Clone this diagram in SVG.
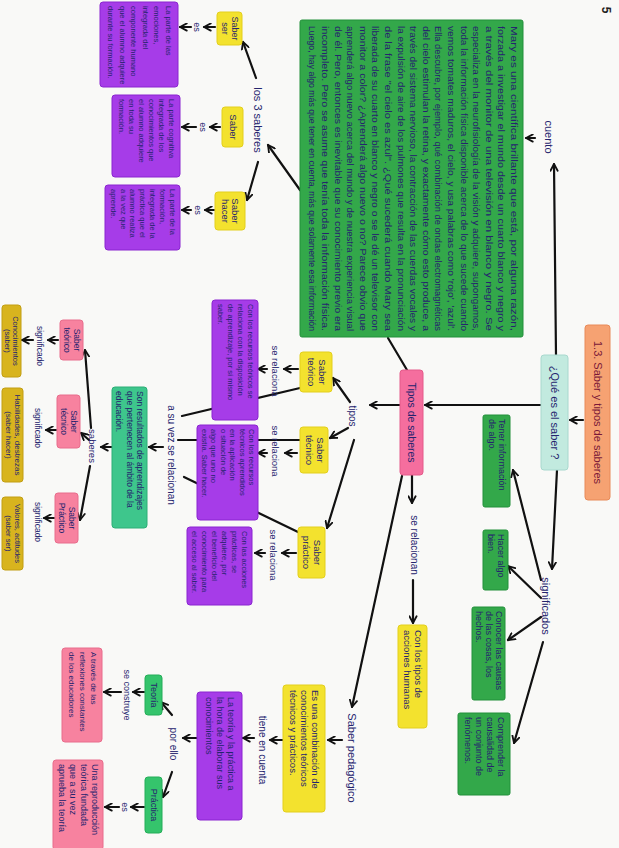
<svg xmlns="http://www.w3.org/2000/svg" width="619" height="848" viewBox="0 0 619 848">
<defs>
<marker id="ah" viewBox="0 0 10 10" refX="8.5" refY="5" markerWidth="9" markerHeight="9" markerUnits="userSpaceOnUse" orient="auto">
<path d="M1,1 L8.5,5 L1,9" fill="none" stroke="#111" stroke-width="2" stroke-linejoin="round" stroke-linecap="round"/>
</marker>
</defs>
<style>
text{font-family:"Liberation Sans",Arial,sans-serif;fill:#25246e}
.a{stroke:#111;stroke-width:2.2;fill:none;marker-end:url(#ah);stroke-linecap:round}
.l{stroke:#111;stroke-width:2.2;fill:none;stroke-linecap:round}
.org{fill:#f6a272;stroke:#e88a58;stroke-width:1}
.cya{fill:#c2eadf;stroke:#a8d8ce;stroke-width:1}
.grn{fill:#33a84a;stroke:#23903a;stroke-width:1}
.pur{fill:#a63ce8;stroke:#8a25d0;stroke-width:1}
.yel{fill:#f3e22e;stroke:#e3cf1c;stroke-width:1}
.pnk{fill:#f56e9e;stroke:#e45a8a;stroke-width:1}
.pk2{fill:#f7829f;stroke:#e86d8c;stroke-width:1}
.mus{fill:#d8b41e;stroke:#c29e12;stroke-width:1}
.mnt{fill:#3ec68c;stroke:#2cae76;stroke-width:1}
.gr2{fill:#35c46c;stroke:#25ad58;stroke-width:1}
.c{text-anchor:middle}
</style>
<rect width="619" height="848" fill="#f9f9f7"/>

<g id="connectors">
<line class="a" x1="583" y1="420" x2="570" y2="420"/>
<line class="a" x1="556" y1="356" x2="554" y2="164"/>
<line class="a" x1="535" y1="138" x2="526" y2="138"/>
<line class="a" x1="557" y1="470" x2="552" y2="569"/>
<line class="a" x1="541" y1="580" x2="513" y2="470"/>
<line class="a" x1="541" y1="598" x2="508" y2="566"/>
<line class="a" x1="541" y1="617" x2="508" y2="640"/>
<line class="a" x1="543" y1="642" x2="514" y2="743"/>
<line class="a" x1="541" y1="405" x2="425" y2="405"/>
<line class="l" x1="388" y1="338" x2="407" y2="370"/>
<line class="a" x1="300" y1="190" x2="268" y2="145"/>
<line class="a" x1="256" y1="78" x2="243" y2="42"/>
<line class="a" x1="258" y1="162" x2="247" y2="200"/>
<line class="a" x1="215" y1="27" x2="204" y2="27"/>
<line class="a" x1="191" y1="27" x2="180" y2="27"/>
<line class="a" x1="220" y1="127" x2="210" y2="127"/>
<line class="a" x1="196" y1="127" x2="182" y2="127"/>
<line class="a" x1="214" y1="210" x2="205" y2="210"/>
<line class="a" x1="191" y1="210" x2="182" y2="210"/>
<line class="a" x1="400" y1="405" x2="370" y2="405"/>
<line class="a" x1="350" y1="402" x2="333" y2="378"/>
<line class="a" x1="348" y1="428" x2="330" y2="438"/>
<line class="a" x1="354" y1="440" x2="327" y2="528"/>
<line class="l" x1="300" y1="388" x2="182" y2="416"/>
<line class="l" x1="300" y1="440" x2="178" y2="440"/>
<line class="l" x1="298" y1="532" x2="184" y2="477"/>
<line class="a" x1="298" y1="369" x2="284" y2="369"/>
<line class="a" x1="267" y1="369" x2="258" y2="369"/>
<line class="a" x1="297" y1="453" x2="285" y2="453"/>
<line class="a" x1="267" y1="453" x2="258" y2="453"/>
<line class="a" x1="296" y1="553" x2="282" y2="553"/>
<line class="a" x1="265" y1="553" x2="255" y2="553"/>
<line class="a" x1="163" y1="447" x2="149" y2="447"/>
<line class="a" x1="112" y1="447" x2="101" y2="447"/>
<line class="a" x1="91" y1="428" x2="85" y2="350"/>
<line class="a" x1="89" y1="440" x2="81" y2="433"/>
<line class="a" x1="90" y1="466" x2="80" y2="520"/>
<line class="a" x1="58" y1="340" x2="48" y2="340"/>
<line class="a" x1="33" y1="340" x2="22" y2="340"/>
<line class="a" x1="56" y1="430" x2="46" y2="430"/>
<line class="a" x1="54" y1="518" x2="44" y2="518"/>
<line class="a" x1="412" y1="475" x2="412" y2="503"/>
<line class="a" x1="413" y1="580" x2="413" y2="623"/>
<line class="a" x1="402" y1="476" x2="352" y2="707"/>
<line class="a" x1="342" y1="740" x2="328" y2="740"/>
<line class="a" x1="283" y1="740" x2="270" y2="740"/>
<line class="a" x1="254" y1="738" x2="243" y2="738"/>
<line class="a" x1="197" y1="738" x2="183" y2="738"/>
<line class="a" x1="172" y1="715" x2="161" y2="702"/>
<line class="a" x1="172" y1="772" x2="163" y2="797"/>
<line class="a" x1="144" y1="692" x2="133" y2="692"/>
<line class="a" x1="121" y1="692" x2="104" y2="692"/>
<line class="a" x1="144" y1="807" x2="131" y2="807"/>
<line class="a" x1="119" y1="807" x2="105" y2="807"/>
</g>

<g id="page-number"><text transform="translate(606,10) rotate(90)" class="c" y="4" font-size="12" font-weight="bold" style="fill:#222">5</text></g>

<g id="n-title"><rect class="org" x="585" y="325" width="25" height="175" rx="3"/>
<text transform="translate(610,325) rotate(90)" class="c" x="87.5" y="15.8" font-size="11" style="fill:#7a1838">1.3. Saber y tipos de saberes</text></g>

<g id="n-que"><rect class="cya" x="541" y="355" width="27" height="115" rx="3"/>
<text transform="translate(568,355) rotate(90)" class="c" x="57.5" y="16.8" font-size="11">¿Qué es el saber ?</text></g>

<g id="n-cuento"><text transform="translate(549,137) rotate(90)" class="c" y="3.8" font-size="11">cuento</text></g>
<g id="n-significados"><text transform="translate(546,606) rotate(90)" class="c" y="3.8" font-size="11">significados</text></g>

<g id="n-def1"><rect class="grn" x="483" y="415" width="27" height="92" rx="2"/>
<text transform="translate(510,415) rotate(90)" font-size="9"><tspan x="4" y="11.2">Tener información</tspan><tspan x="4" y="21.2">de algo.</tspan></text></g>
<g id="n-def2"><rect class="grn" x="483" y="530" width="25" height="60" rx="2"/>
<text transform="translate(508,530) rotate(90)" font-size="9"><tspan x="4" y="10.2">Hacer algo</tspan><tspan x="4" y="20.2">bien.</tspan></text></g>
<g id="n-def3"><rect class="grn" x="472" y="607" width="33" height="93" rx="2"/>
<text transform="translate(505,607) rotate(90)" font-size="9"><tspan x="4" y="9.2">Conocer las causas</tspan><tspan x="4" y="19.2">de las cosas, los</tspan><tspan x="4" y="29.2">hechos.</tspan></text></g>
<g id="n-def4"><rect class="grn" x="458" y="713" width="52" height="82" rx="2"/>
<text transform="translate(510,713) rotate(90)" font-size="9"><tspan x="4" y="12.2">Comprender la</tspan><tspan x="4" y="23.2">causalidad de</tspan><tspan x="4" y="34.2">un conjunto de</tspan><tspan x="4" y="45.2">fenómenos.</tspan></text></g>

<g id="n-cuento-texto"><rect class="grn" x="300" y="20" width="223" height="317" rx="2"/>
<g transform="translate(523,20) rotate(90)" font-size="9">
<text x="6" y="12" textLength="305" lengthAdjust="spacingAndGlyphs">Mary es una científica brillante que está, por alguna razón,</text>
<text x="6" y="24.6" textLength="305" lengthAdjust="spacingAndGlyphs">forzada a investigar el mundo desde un cuarto blanco y negro y</text>
<text x="6" y="37.2" textLength="305" lengthAdjust="spacingAndGlyphs">a través del monitor de una televisión en blanco y negro. Se</text>
<text x="6" y="49.8" textLength="305" lengthAdjust="spacingAndGlyphs">especializa en la neurofisiología de la visión y adquiere, supongamos,</text>
<text x="6" y="62.4" textLength="305" lengthAdjust="spacingAndGlyphs">toda la información física disponible acerca de lo que sucede cuando</text>
<text x="6" y="75" textLength="305" lengthAdjust="spacingAndGlyphs">vemos tomates maduros, el cielo, y usa palabras como 'rojo', 'azul'.</text>
<text x="6" y="87.6" textLength="305" lengthAdjust="spacingAndGlyphs">Ella descubre, por ejemplo, qué combinación de ondas electromagnéticas</text>
<text x="6" y="100.2" textLength="305" lengthAdjust="spacingAndGlyphs">del cielo estimulan la retina, y exactamente cómo esto produce, a</text>
<text x="6" y="112.8" textLength="305" lengthAdjust="spacingAndGlyphs">través del sistema nervioso, la contracción de las cuerdas vocales y</text>
<text x="6" y="125.4" textLength="305" lengthAdjust="spacingAndGlyphs">la expulsión de aire de los pulmones que resulta en la pronunciación</text>
<text x="6" y="138" textLength="305" lengthAdjust="spacingAndGlyphs">de la frase "el cielo es azul". ¿Qué sucederá cuando Mary sea</text>
<text x="6" y="150.6" textLength="305" lengthAdjust="spacingAndGlyphs">liberada de su cuarto en blanco y negro o se le dé un televisor con</text>
<text x="6" y="163.2" textLength="305" lengthAdjust="spacingAndGlyphs">monitor a color? ¿Aprenderá algo nuevo o no? Parece obvio que</text>
<text x="6" y="175.8" textLength="305" lengthAdjust="spacingAndGlyphs">aprenderá algo nuevo acerca del mundo y de nuestra experiencia visual</text>
<text x="6" y="188.4" textLength="305" lengthAdjust="spacingAndGlyphs">de él. Pero, entonces es inevitable que su conocimiento previo era</text>
<text x="6" y="201" textLength="305" lengthAdjust="spacingAndGlyphs">incompleto. Pero se asume que tenía toda la información física.</text>
<text x="6" y="213.6" textLength="305" lengthAdjust="spacingAndGlyphs">Luego, hay algo más que tener en cuenta, más que solamente esa información</text>
</g></g>

<g id="n-3saberes"><text transform="translate(258,120) rotate(90)" class="c" y="3.8" font-size="11">los 3 saberes</text></g>

<g id="n-saber-ser"><rect class="yel" x="217" y="12" width="25" height="33" rx="3"/>
<text transform="translate(242,12) rotate(90)" class="c" font-size="9"><tspan x="16.5" y="10.45">Saber</tspan><tspan x="16.5" y="19.95">ser</tspan></text></g>
<g id="n-saber"><rect class="yel" x="222" y="107" width="21" height="40" rx="3"/>
<text transform="translate(243,107) rotate(90)" class="c" x="20" y="13.35" font-size="9.5">Saber</text></g>
<g id="n-saber-hacer"><rect class="yel" x="215" y="192" width="30" height="38" rx="3"/>
<text transform="translate(245,192) rotate(90)" class="c" font-size="9.5"><tspan x="19" y="12.6">Saber</tspan><tspan x="19" y="23.1">hacer</tspan></text></g>

<g id="lbl-es1"><text transform="translate(197.5,27) rotate(90)" class="c" y="3.2" font-size="9">es</text></g>
<g id="lbl-es2"><text transform="translate(203,127) rotate(90)" class="c" y="3.2" font-size="9">es</text></g>
<g id="lbl-es3"><text transform="translate(198,210) rotate(90)" class="c" y="3.2" font-size="9">es</text></g>

<g id="n-p-ser"><rect class="pur" x="100" y="2" width="78" height="85" rx="3"/>
<text transform="translate(178,2) rotate(90)" font-size="7.5"><tspan x="4" y="12.5">La parte de las</tspan><tspan x="4" y="24">emociones,</tspan><tspan x="4" y="35.5">integrada del</tspan><tspan x="4" y="47">componente humano</tspan><tspan x="4" y="58.5">que el alumno adquiere</tspan><tspan x="4" y="70">durante su formación.</tspan></text></g>
<g id="n-p-saber"><rect class="pur" x="112" y="95" width="68" height="82" rx="3"/>
<text transform="translate(180,95) rotate(90)" font-size="7.5"><tspan x="4" y="11.25">La parte cognitiva</tspan><tspan x="4" y="21.25">integrada de los</tspan><tspan x="4" y="31.25">conocimientos que</tspan><tspan x="4" y="41.25">el alumno adquiere</tspan><tspan x="4" y="51.25">en toda su</tspan><tspan x="4" y="61.25">formación.</tspan></text></g>
<g id="n-p-hacer"><rect class="pur" x="105" y="185" width="75" height="65" rx="3"/>
<text transform="translate(180,185) rotate(90)" font-size="7.5"><tspan x="4" y="10.35">La parte de la</tspan><tspan x="4" y="20.15">formación,</tspan><tspan x="4" y="29.95">integrada de la</tspan><tspan x="4" y="39.75">práctica que el</tspan><tspan x="4" y="49.55">alumno realiza</tspan><tspan x="4" y="59.35">a la vez que</tspan><tspan x="4" y="69.15">aprende.</tspan></text></g>

<g id="n-tipos-saberes"><rect class="pnk" x="400" y="370" width="23" height="105" rx="3"/>
<text transform="translate(423,370) rotate(90)" class="c" x="52.5" y="14.65" font-size="10.5">Tipos de saberes</text></g>
<g id="n-tipos"><text transform="translate(352,416) rotate(90)" class="c" y="3.5" font-size="10">tipos</text></g>

<g id="n-teorico"><rect class="yel" x="300" y="352" width="32" height="40" rx="3"/>
<text transform="translate(332,352) rotate(90)" class="c" font-size="9.5"><tspan x="20" y="13.35">Saber</tspan><tspan x="20" y="24.35">teórico</tspan></text></g>
<g id="n-tecnico"><rect class="yel" x="300" y="427" width="28" height="46" rx="3"/>
<text transform="translate(328,427) rotate(90)" class="c" font-size="9.5"><tspan x="23" y="11.35">Saber</tspan><tspan x="23" y="22.35">técnico</tspan></text></g>
<g id="n-practico"><rect class="yel" x="298" y="527" width="27" height="51" rx="3"/>
<text transform="translate(325,527) rotate(90)" class="c" font-size="9.5"><tspan x="25.5" y="10.85">Saber</tspan><tspan x="25.5" y="21.85">práctico</tspan></text></g>

<g id="lbl-rel1"><text transform="translate(275,371) rotate(90)" class="c" y="3.3" font-size="9.5">se relaciona</text></g>
<g id="lbl-rel2"><text transform="translate(275,451) rotate(90)" class="c" y="3.3" font-size="9.5">se relaciona</text></g>
<g id="lbl-rel3"><text transform="translate(273,555) rotate(90)" class="c" y="3.3" font-size="9.5">se relaciona</text></g>

<g id="n-p-teorico"><rect class="pur" x="212" y="300" width="46" height="120" rx="3"/>
<text transform="translate(258,300) rotate(90)" font-size="7.5"><tspan x="4" y="10.25">Con los recursos teóricos se</tspan><tspan x="4" y="20.25">relaciona con la disposición</tspan><tspan x="4" y="30.25">de aprendizaje, por sí mismo</tspan><tspan x="4" y="40.25">saber.</tspan></text></g>
<g id="n-p-tecnico"><rect class="pur" x="197" y="425" width="61" height="95" rx="3"/>
<text transform="translate(258,425) rotate(90)" font-size="7.5"><tspan x="4" y="9">Con los recursos</tspan><tspan x="4" y="18.5">técnicos aprendidos</tspan><tspan x="4" y="28">en la aplicación</tspan><tspan x="4" y="37.5">o situación de</tspan><tspan x="4" y="47">algo que uno no</tspan><tspan x="4" y="56.5">existía. Saber hacer.</tspan></text></g>
<g id="n-p-practico"><rect class="pur" x="187" y="527" width="65" height="78" rx="3"/>
<text transform="translate(252,527) rotate(90)" font-size="7.5"><tspan x="4" y="9.75">Con las acciones</tspan><tspan x="4" y="19.75">prácticas, se</tspan><tspan x="4" y="29.75">adquiere, por</tspan><tspan x="4" y="39.75">el beneficio del</tspan><tspan x="4" y="49.75">conocimiento para</tspan><tspan x="4" y="59.75">el acceso al saber.</tspan></text></g>

<g id="n-asuvez"><text transform="translate(171,455) rotate(90)" class="c" y="3.5" font-size="10">a su vez se relacionan</text></g>

<g id="n-resultados"><rect class="mnt" x="112" y="387" width="35" height="141" rx="3"/>
<text transform="translate(147,387) rotate(90)" font-size="8.5"><tspan x="4" y="9.55">Son resultados de aprendizajes</tspan><tspan x="4" y="20.05">que pertenecen al ámbito de la</tspan><tspan x="4" y="30.55">educación.</tspan></text></g>

<g id="n-saberes"><text transform="translate(92,446) rotate(90)" class="c" y="3.3" font-size="9.5">saberes</text></g>

<g id="n-pk-teorico"><rect class="pk2" x="60" y="320" width="23" height="40" rx="3"/>
<text transform="translate(83,320) rotate(90)" class="c" font-size="8.5"><tspan x="20" y="9.3">Saber</tspan><tspan x="20" y="18.8">teórico</tspan></text></g>
<g id="n-pk-tecnico"><rect class="pk2" x="57" y="395" width="23" height="53" rx="3"/>
<text transform="translate(80,395) rotate(90)" class="c" font-size="8.5"><tspan x="26.5" y="9.3">Saber</tspan><tspan x="26.5" y="18.8">técnico</tspan></text></g>
<g id="n-pk-practico"><rect class="pk2" x="55" y="493" width="23" height="50" rx="3"/>
<text transform="translate(78,493) rotate(90)" class="c" font-size="8.5"><tspan x="25" y="9.3">Saber</tspan><tspan x="25" y="18.8">Práctico</tspan></text></g>

<g id="lbl-sig1"><text transform="translate(40,346) rotate(90)" class="c" y="3" font-size="8.5">significado</text></g>
<g id="lbl-sig2"><text transform="translate(38,428) rotate(90)" class="c" y="3" font-size="8.5">significado</text></g>
<g id="lbl-sig3"><text transform="translate(38,522) rotate(90)" class="c" y="3" font-size="8.5">significado</text></g>

<g id="n-conocimientos"><rect class="mus" x="2" y="305" width="19" height="72" rx="3"/>
<text transform="translate(21,305) rotate(90)" class="c" font-size="7.5"><tspan x="36" y="7.75">Conocimientos</tspan><tspan x="36" y="15.75">(saber)</tspan></text></g>
<g id="n-habilidades"><rect class="mus" x="2" y="388" width="21" height="94" rx="3"/>
<text transform="translate(23,388) rotate(90)" class="c" font-size="8"><tspan x="47" y="8.4">Habilidades, destrezas</tspan><tspan x="47" y="17.4">(saber hacer)</tspan></text></g>
<g id="n-valores"><rect class="mus" x="2" y="497" width="21" height="73" rx="3"/>
<text transform="translate(23,497) rotate(90)" class="c" font-size="7.5"><tspan x="36.5" y="8.4">Valores, actitudes</tspan><tspan x="36.5" y="17.4">(saber ser)</tspan></text></g>

<g id="lbl-serelacionan"><text transform="translate(414,545) rotate(90)" class="c" y="3.5" font-size="10">se relacionan</text></g>
<g id="n-acciones"><rect class="yel" x="398" y="625" width="29" height="103" rx="3"/>
<text transform="translate(427,625) rotate(90)" font-size="9.5"><tspan x="5" y="11.85">Con los tipos de</tspan><tspan x="5" y="22.85">acciones humanas</tspan></text></g>

<g id="n-pedagogico"><text transform="translate(352,758) rotate(90)" class="c" y="3.8" font-size="11">Saber pedagógico</text></g>
<g id="n-combinacion"><rect class="yel" x="283" y="685" width="42" height="127" rx="3"/>
<text transform="translate(325,685) rotate(90)" font-size="9.5"><tspan x="5" y="12.85">Es una combinación de</tspan><tspan x="5" y="23.85">conocimientos teóricos</tspan><tspan x="5" y="34.85">técnicos y prácticos.</tspan></text></g>
<g id="lbl-tiene"><text transform="translate(262,750) rotate(90)" class="c" y="3.5" font-size="10">tiene en cuenta</text></g>
<g id="n-teoria-practica"><rect class="pur" x="197" y="692" width="45" height="128" rx="3"/>
<text transform="translate(242,692) rotate(90)" font-size="9"><tspan x="5" y="14.2">La teoría y la práctica a</tspan><tspan x="5" y="25.2">la hora de elaborar sus</tspan><tspan x="5" y="36.2">conocimientos</tspan></text></g>
<g id="lbl-porello"><text transform="translate(173,744) rotate(90)" class="c" y="3.5" font-size="10">por ello</text></g>
<g id="n-teoria"><rect class="gr2" x="145" y="675" width="17" height="40" rx="3"/>
<text transform="translate(162,675) rotate(90)" class="c" x="20" y="11.2" font-size="9">Teoría</text></g>
<g id="n-practica"><rect class="gr2" x="145" y="777" width="17" height="56" rx="3"/>
<text transform="translate(162,777) rotate(90)" class="c" x="28" y="11.2" font-size="9">Práctica</text></g>
<g id="lbl-construye"><text transform="translate(127,695) rotate(90)" class="c" y="3.2" font-size="9">se construye</text></g>
<g id="lbl-es4"><text transform="translate(125,807) rotate(90)" class="c" y="3.2" font-size="9">es</text></g>
<g id="n-reflexiones"><rect class="pk2" x="62" y="648" width="40" height="94" rx="3"/>
<text transform="translate(102,648) rotate(90)" font-size="8"><tspan x="4" y="11.5">A través de las</tspan><tspan x="4" y="22.5">reflexiones constantes</tspan><tspan x="4" y="33.5">de los educadores</tspan></text></g>
<g id="n-reproduccion"><rect class="pk2" x="53" y="760" width="50" height="90" rx="3"/>
<text transform="translate(103,760) rotate(90)" font-size="9"><tspan x="4" y="11.2">Una reproducción</tspan><tspan x="4" y="22.2">teórica fundada</tspan><tspan x="4" y="33.2">que a su vez</tspan><tspan x="4" y="44.2">aprueba la teoría</tspan></text></g>
</svg>
